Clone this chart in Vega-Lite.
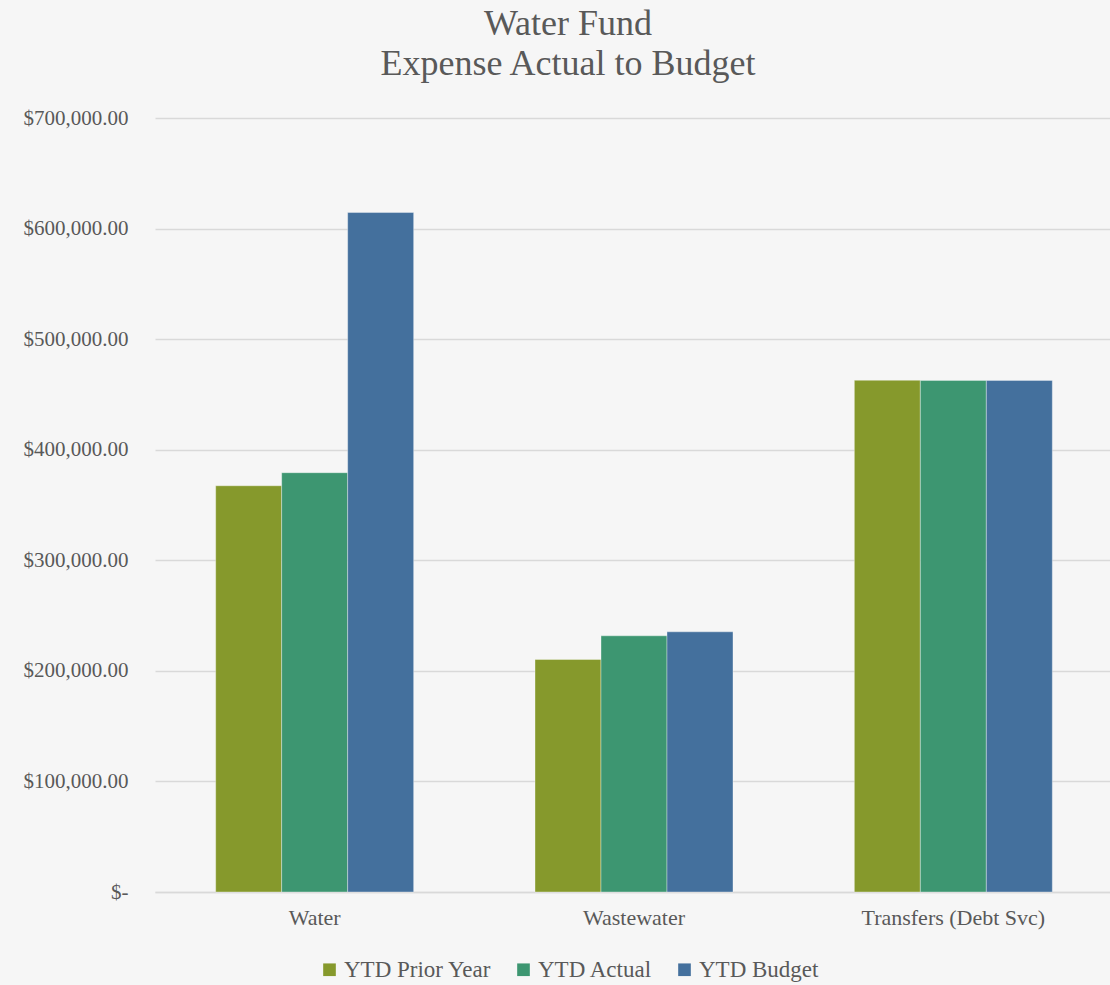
{
  "$schema": "https://vega.github.io/schema/vega-lite/v6.json",
  "autosize": "none",
  "width": 958,
  "height": 774,
  "padding": {"left": 155, "top": 118, "right": 0, "bottom": 93},
  "background": "#f6f6f6",
  "title": {
    "text": ["Water Fund", "Expense Actual to Budget"],
    "font": "Liberation Serif",
    "fontSize": 36,
    "fontWeight": "normal",
    "color": "#595959",
    "lineHeight": 40,
    "anchor": "middle",
    "dx": -66,
    "offset": 24
  },
  "data": {
    "values": [
      {"category": "Water", "series": "YTD Prior Year", "value": 367400},
      {"category": "Water", "series": "YTD Actual", "value": 379200},
      {"category": "Water", "series": "YTD Budget", "value": 614500},
      {"category": "Wastewater", "series": "YTD Prior Year", "value": 210300},
      {"category": "Wastewater", "series": "YTD Actual", "value": 231700},
      {"category": "Wastewater", "series": "YTD Budget", "value": 235300},
      {"category": "Transfers (Debt Svc)", "series": "YTD Prior Year", "value": 462800},
      {"category": "Transfers (Debt Svc)", "series": "YTD Actual", "value": 462700},
      {"category": "Transfers (Debt Svc)", "series": "YTD Budget", "value": 462700}
    ]
  },
  "mark": {"type": "bar", "stroke": "#ffffff", "strokeWidth": 0.6, "strokeOpacity": 0.6},
  "encoding": {
    "x": {
      "field": "category",
      "type": "nominal",
      "sort": ["Water", "Wastewater", "Transfers (Debt Svc)"],
      "scale": {"paddingInner": 0.38, "paddingOuter": 0.19},
      "axis": {
        "title": null,
        "labelAngle": 0,
        "labelFont": "Liberation Serif",
        "labelFontSize": 22,
        "labelColor": "#595959",
        "labelPadding": 15,
        "labelLimit": 0,
        "ticks": false,
        "domainColor": "#d9d9d9",
        "domainWidth": 1.5
      }
    },
    "xOffset": {
      "field": "series",
      "type": "nominal",
      "sort": ["YTD Prior Year", "YTD Actual", "YTD Budget"],
      "scale": {"paddingInner": 0, "paddingOuter": 0}
    },
    "y": {
      "field": "value",
      "type": "quantitative",
      "scale": {"domain": [0, 700000], "nice": false},
      "axis": {
        "title": null,
        "values": [0, 100000, 200000, 300000, 400000, 500000, 600000, 700000],
        "labelExpr": "datum.value == 0 ? '$-' : '$' + format(datum.value, ',.2f')",
        "labelFont": "Liberation Serif",
        "labelFontSize": 21,
        "labelColor": "#595959",
        "labelPadding": 27,
        "ticks": false,
        "domain": false,
        "gridColor": "#d9d9d9",
        "gridWidth": 1.5
      }
    },
    "color": {
      "field": "series",
      "type": "nominal",
      "sort": ["YTD Prior Year", "YTD Actual", "YTD Budget"],
      "scale": {
        "domain": ["YTD Prior Year", "YTD Actual", "YTD Budget"],
        "range": ["#86992c", "#3d9671", "#44709d"]
      },
      "legend": {
        "title": null,
        "orient": "none",
        "direction": "horizontal",
        "legendX": 163,
        "legendY": 840,
        "symbolType": "square",
        "symbolSize": 160,
        "symbolStrokeWidth": 0,
        "labelFont": "Liberation Serif",
        "labelFontSize": 23,
        "labelColor": "#595959",
        "labelOffset": 3,
        "columnPadding": 20
      }
    }
  },
  "config": {
    "view": {"stroke": null}
  }
}
